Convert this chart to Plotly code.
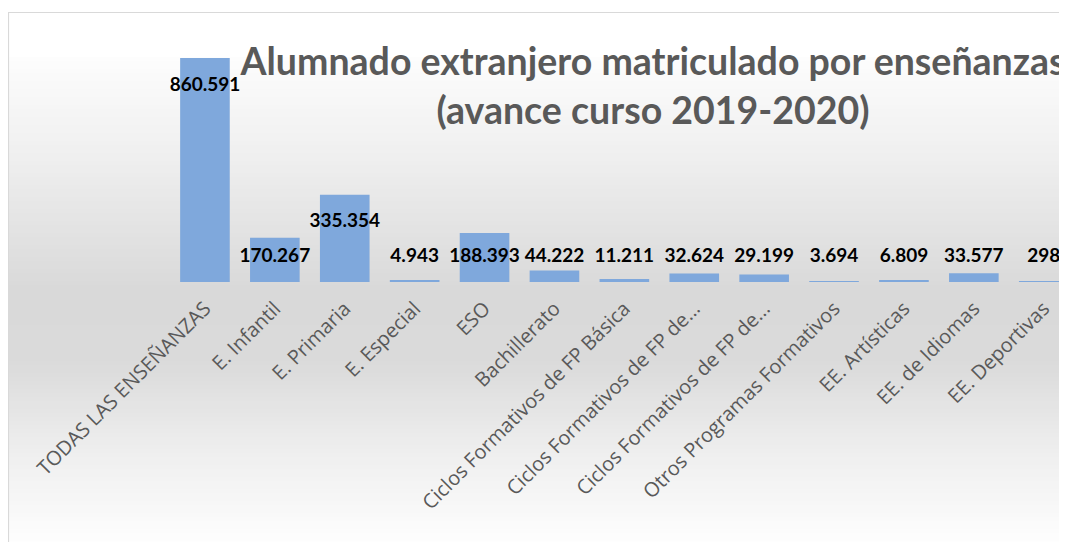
import plotly.graph_objects as go

categories = [
    "TODAS LAS ENSEÑANZAS", "E. Infantil", "E. Primaria", "E. Especial", "ESO",
    "Bachillerato", "Ciclos Formativos de FP Básica",
    "Ciclos Formativos de FP de Grado Medio",
    "Ciclos Formativos de FP de Grado Superior",
    "Otros Programas Formativos", "EE. Artísticas", "EE. de Idiomas", "EE. Deportivas",
]
tick_labels = [
    "TODAS LAS ENSEÑANZAS", "E. Infantil", "E. Primaria", "E. Especial", "ESO",
    "Bachillerato", "Ciclos Formativos de FP Básica",
    "Ciclos Formativos de FP de...", "Ciclos Formativos de FP de...",
    "Otros Programas Formativos", "EE. Artísticas", "EE. de Idiomas", "EE. Deportivas",
]
values = [860591, 170267, 335354, 4943, 188393, 44222, 11211, 32624, 29199, 3694, 6809, 33577, 298]
value_labels = ["860.591", "170.267", "335.354", "4.943", "188.393", "44.222", "11.211",
                "32.624", "29.199", "3.694", "6.809", "33.577", "298"]

OFF = 8                   # page body margin
W, H = 1067 - OFF, 550 - 2 * OFF
PL, PR = 170 - OFF, 1067 - OFF   # plot area px in figure (x)
PT, PB = 40 - OFF, 282 - OFF     # plot area px in figure (y)
YMAX = 860591 * (PB - PT) / 224.0

xs = list(range(len(categories)))
px_per_unit = (PB - PT) / YMAX
label_y = [max(v - 28 / px_per_unit, 25 / px_per_unit) for v in values]

fig = go.Figure()
fig.add_trace(go.Bar(
    x=xs, y=values, width=0.71,
    marker=dict(color="#7fa8dc", line=dict(width=0)),
    hovertext=categories, showlegend=False,
))
fig.add_trace(go.Scatter(
    x=xs, y=label_y, mode="text", text=value_labels,
    textposition="middle center",
    textfont=dict(family="Lato", size=19, color="#000000", weight="bold"),
    showlegend=False, hoverinfo="skip", cliponaxis=False,
))

# background gradient (chart area fill) as horizontal strips (screen px)
def gray_at(py):
    pts = [(57, 253), (150, 240), (290, 217), (360, 218), (450, 238), (520, 250), (548, 255)]
    for (a, ca), (b, cb) in zip(pts, pts[1:]):
        if a <= py <= b:
            return ca + (cb - ca) * (py - a) / (b - a)
    return 255

def px2x(sx):
    return (sx - OFF - PL) / (PR - PL)

def px2y(sy):
    return (PB - (sy - OFF)) / (PB - PT)

shapes = []
step = 4
y = 57
while y < 552:
    g = int(round(gray_at(y + step / 2)))
    shapes.append(dict(type="rect", xref="paper", yref="paper",
                       x0=px2x(9), x1=px2x(1080), y0=px2y(y + step), y1=px2y(y),
                       fillcolor=f"rgb({g},{g},{g})", line=dict(width=0), layer="below"))
    y += step
shapes.append(dict(type="rect", xref="paper", yref="paper",
                   x0=px2x(8.5), x1=px2x(1090), y0=px2y(570), y1=px2y(12.5),
                   fillcolor="rgba(0,0,0,0)", line=dict(color="#d9d9d9", width=1.2), layer="above"))

fig.update_layout(
    width=W, height=H,
    margin=dict(l=PL, r=W - PR, t=PT, b=H - PB, pad=0),
    paper_bgcolor="white", plot_bgcolor="rgba(0,0,0,0)",
    shapes=shapes,
    title=dict(
        text="Alumnado extranjero matriculado por enseñanzas<br>(avance curso 2019-2020)",
        x=(653 - OFF) / W, xanchor="center", y=1 - 67 / H, yanchor="middle",
        font=dict(family="Lato", size=37.5, color="#595959", weight="bold"),
    ),
    xaxis=dict(
        tickmode="array", tickvals=xs, ticktext=tick_labels,
        range=[-0.5, -0.5 + (PR - PL) / 69.9],
        tickangle=-45, showgrid=False, zeroline=False, showline=False, ticks="",
        tickfont=dict(family="Open Sans", size=20, color="#595959"),
        ticklabelstandoff=10,
    ),
    yaxis=dict(range=[0, YMAX], visible=False, showgrid=False, zeroline=False),
)

fig.write_html("out.html")
